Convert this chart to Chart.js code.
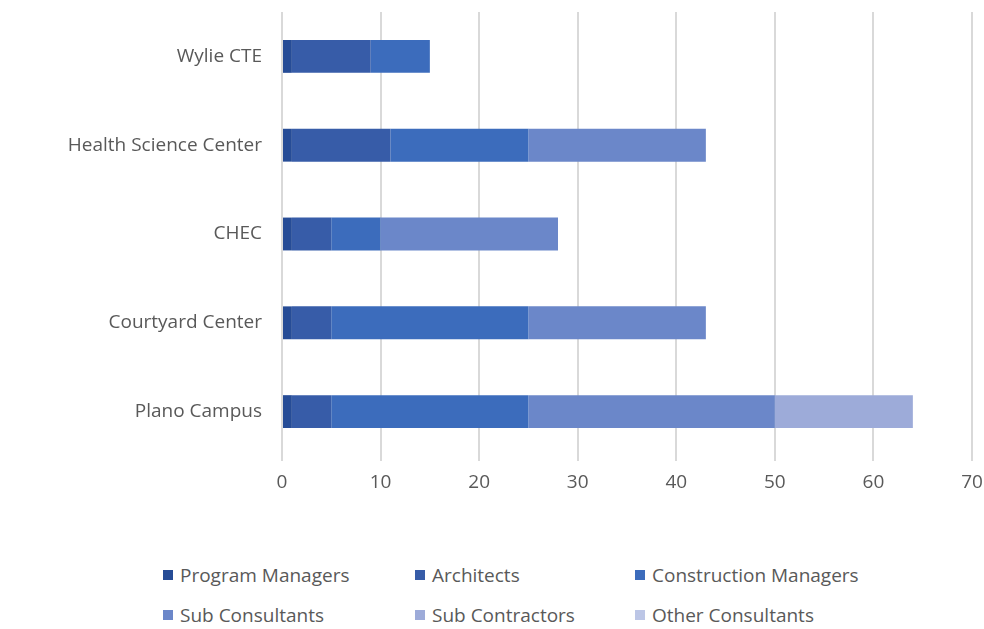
<!DOCTYPE html>
<html>
<head>
<meta charset="utf-8">
<script src="https://cdn.jsdelivr.net/npm/chart.js@4/dist/chart.umd.min.js"></script>
<style>
  html, body { margin: 0; padding: 0; background: #fff; }
  #wrap { position: relative; width: 984px; height: 629px; }
  #chartBox { position: absolute; left: 0; top: 0; width: 984px; height: 500px; }
  .legend-item {
    position: absolute; font-family: "Open Sans", sans-serif; font-size: 19px; color: #595959;
    display: flex; align-items: center; white-space: nowrap;
  }
  .legend-item span.sw { width: 10px; height: 10px; margin-right: 7px; display: inline-block; }
</style>
</head>
<body>
<div id="wrap">
  <div id="chartBox"><canvas id="teamChart"></canvas></div>
  <div id="legend"></div>
</div>
<script>
// Team make-up per campus project (stacked horizontal bars)

const projects = ['Wylie CTE', 'Health Science Center', 'CHEC', 'Courtyard Center', 'Plano Campus'];
const seriesNames = ['Program Managers', 'Architects', 'Construction Managers', 'Sub Consultants', 'Sub Contractors', 'Other Consultants'];

const programManagers = [1, 1, 1, 1, 1];
const architects = [8, 10, 4, 4, 4];
const constructionManagers = [6, 14, 5, 20, 20];
const subConsultants = [0, 18, 18, 18, 25];
const subContractors = [0, 0, 0, 0, 14];
const otherConsultants = [0, 0, 0, 0, 0];

const xTicks = [0, 10, 20, 30, 40, 50, 60, 70];

const seriesColors = ['#264c96', '#375ca8', '#3c6cbc', '#6b87c9', '#9dabd9', '#bcc6e6'];
const seriesValues = [programManagers, architects, constructionManagers, subConsultants, subContractors, otherConsultants];

const textColor = '#595959';
const fontFamily = '"Open Sans", sans-serif';

new Chart(document.getElementById('teamChart'), {
  type: 'bar',
  data: {
    labels: projects,
    datasets: seriesNames.map((name, i) => ({
      label: name,
      data: seriesValues[i],
      backgroundColor: seriesColors[i],
      borderWidth: 0,
      categoryPercentage: 0.74,
      barPercentage: 0.5
    }))
  },
  options: {
    indexAxis: 'y',
    responsive: true,
    maintainAspectRatio: false,
    animation: false,
    layout: { padding: { top: 12, right: 12, left: 0, bottom: 0 } },
    plugins: { legend: { display: false }, tooltip: { enabled: false } },
    scales: {
      x: {
        stacked: true,
        min: 0,
        max: xTicks[xTicks.length - 1],
        ticks: { stepSize: 10, color: textColor, font: { family: fontFamily, size: 19 }, padding: 10 },
        grid: { color: '#d9d9d9', lineWidth: 2, tickLength: 5, drawTicks: true },
        border: { display: false },
        afterFit: scale => {
          scale.height = 44;
          scale.paddingLeft = 0;
          scale.paddingRight = 0;
        }
      },
      y: {
        stacked: true,
        ticks: { color: textColor, font: { family: fontFamily, size: 19 }, padding: 20 },
        grid: { display: false, drawTicks: false },
        border: { display: false },
        afterFit: scale => {
          scale.width = 282;
          scale.paddingTop = 0;
          scale.paddingBottom = 0;
        }
      }
    }
  }
});

// Legend laid out in two rows, three columns
const legendPos = [[163, 575], [415, 575], [635, 575], [163, 615], [415, 615], [635, 615]];
document.getElementById('legend').innerHTML = seriesNames.map((name, i) => `
  <div class="legend-item" style="left:${legendPos[i][0]}px; top:${legendPos[i][1] - 12}px; height:24px;">
    <span class="sw" style="background:${seriesColors[i]}"></span>${name}
  </div>`).join('');
</script>
</body>
</html>
